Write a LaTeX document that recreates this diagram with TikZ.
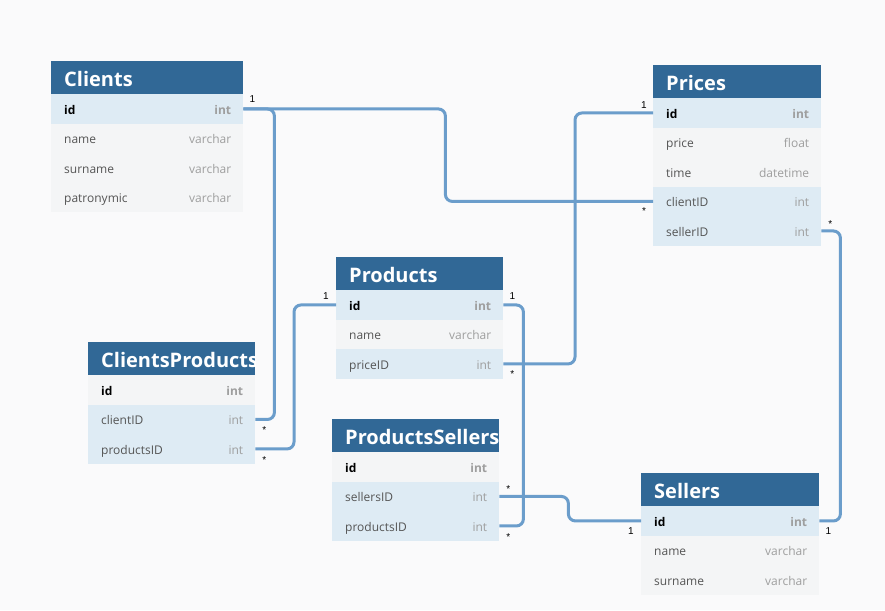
\documentclass[tikz,border=0pt]{standalone}
\usepackage{fontspec}
\setmainfont{Open Sans}
\newfontfamily\cardfont{Liberation Sans}
\usetikzlibrary{calc}
\definecolor{bgc}{RGB}{250,250,251}
\definecolor{hdrc}{RGB}{49,104,150}
\definecolor{keyc}{RGB}{222,235,244}
\definecolor{fldc}{RGB}{244,245,246}
\definecolor{linec}{RGB}{107,157,203}
\definecolor{ftext}{RGB}{85,85,85}
\definecolor{ttext}{RGB}{158,158,158}
\tikzset{
  hdr/.style={fill=hdrc, draw=none, minimum height=33pt, inner sep=0pt},
  hdrtext/.style={text=white, font=\fontsize{20}{24}\selectfont\bfseries, inner sep=0pt, text height=14.5pt, text depth=0pt},
  rowbox/.style={draw=none, minimum height=29.5pt, inner sep=0pt},
  kf/.style={font=\fontsize{12}{14}\selectfont\bfseries, text=black, inner sep=0pt, text height=9pt, text depth=0.5pt},
  kft/.style={font=\fontsize{12}{14}\selectfont\bfseries, text=ttext, inner sep=0pt, text height=9pt, text depth=0.5pt},
  nf/.style={font=\fontsize{12}{14}\selectfont, text=ftext, inner sep=0pt, text height=9pt, text depth=0.5pt},
  nft/.style={font=\fontsize{12}{14}\selectfont, text=ttext, inner sep=0pt, text height=9pt, text depth=0.5pt},
  conn/.style={draw=linec, line width=3pt, rounded corners=7pt},
  card/.style={font=\cardfont\fontsize{10}{12}\selectfont, inner sep=0pt, text=black}
}
% #1 name, #2 x, #3 y, #4 width, #5 title
\newcommand\erhead[5]{%
  \begin{scope}
    \clip (#2,#3) rectangle ++(#4,33);
    \node[hdr, minimum width=#4pt, anchor=north west] (#1) at (#2,#3) {};
    \node[hdrtext, anchor=west] (#1-title) at ($(#1.west)+(13,1.5)$) {#5};
  \end{scope}}
% #1 name, #2 x, #3 y, #4 width, #5 fill, #6 field, #7 type, #8 style
\newcommand\errow[8]{%
  \node[rowbox, fill=#5, minimum width=#4pt, anchor=north west] (#1) at (#2,#3) {};
  \node[#8, anchor=west] (#1-n) at ($(#1.west)+(13,1)$) {#6};
  \node[#8t, anchor=east] (#1-t) at ($(#1.east)+(-12,1)$) {#7};}
\begin{document}
\begin{tikzpicture}[x=1pt,y=-1pt]
\fill[bgc] (0,0) rectangle (885,610);
\useasboundingbox (0,0) rectangle (885,610);

% Clients
\erhead{cl}{51}{61}{192}{Clients}
\errow{cl-id}{51}{94}{192}{keyc}{id}{int}{kf}
\errow{cl-name}{51}{123.5}{192}{fldc}{name}{varchar}{nf}
\errow{cl-sur}{51}{153}{192}{fldc}{surname}{varchar}{nf}
\errow{cl-pat}{51}{182.5}{192}{fldc}{patronymic}{varchar}{nf}

% Prices
\erhead{pz}{653}{65}{168}{Prices}
\errow{pz-id}{653}{98}{168}{keyc}{id}{int}{kf}
\errow{pz-price}{653}{127.5}{168}{fldc}{price}{float}{nf}
\errow{pz-time}{653}{157}{168}{fldc}{time}{datetime}{nf}
\errow{pz-client}{653}{186.5}{168}{keyc}{clientID}{int}{nf}
\errow{pz-seller}{653}{216}{168}{keyc}{sellerID}{int}{nf}

% Products
\erhead{p}{336}{257}{167}{Products}
\errow{p-id}{336}{290}{167}{keyc}{id}{int}{kf}
\errow{p-name}{336}{319.5}{167}{fldc}{name}{varchar}{nf}
\errow{p-price}{336}{349}{167}{keyc}{priceID}{int}{nf}

% ClientsProducts
\erhead{cp}{88}{342}{167}{ClientsProducts}
\errow{cp-id}{88}{375}{167}{fldc}{id}{int}{kf}
\errow{cp-client}{88}{404.5}{167}{keyc}{clientID}{int}{nf}
\errow{cp-prod}{88}{434}{167}{keyc}{productsID}{int}{nf}

% ProductsSellers
\erhead{ps}{332}{419}{167}{ProductsSellers}
\errow{ps-id}{332}{452}{167}{fldc}{id}{int}{kf}
\errow{ps-sell}{332}{481.5}{167}{keyc}{sellersID}{int}{nf}
\errow{ps-prod}{332}{511}{167}{keyc}{productsID}{int}{nf}

% Sellers
\erhead{s}{641}{473}{178}{Sellers}
\errow{s-id}{641}{506}{178}{keyc}{id}{int}{kf}
\errow{s-name}{641}{535.5}{178}{fldc}{name}{varchar}{nf}
\errow{s-sur}{641}{565}{178}{fldc}{surname}{varchar}{nf}

% connectors
\draw[conn] (cl-id.east) -- ++(31,0) |- (cp-client.east);
\draw[conn] (cl-id.east) -- ++(202,0) |- (pz-client.west);
\draw[conn] (pz-id.west) -- ++(-78,0) |- (p-price.east);
\draw[conn] (p-id.west) -- ++(-42,0) |- (cp-prod.east);
\draw[conn] (p-id.east) -- ++(20,0) |- (ps-prod.east);
\draw[conn] (ps-sell.east) -- ++(69,0) |- (s-id.west);
\draw[conn] (pz-seller.east) -- ++(19,0) |- (s-id.east);

% cardinality labels
\node[card] (c1) at ($(cl-id.east)+(9,-10)$) {1};
\node[card] (c2) at ($(pz-client.west)+(-9,10)$) {*};
\node[card] (c3) at ($(pz-id.west)+(-9,-8)$) {1};
\node[card] (c4) at ($(p-price.east)+(9,10)$) {*};
\node[card] (c5) at ($(p-id.west)+(-10,-9)$) {1};
\node[card] (c6) at ($(p-id.east)+(9,-9)$) {1};
\node[card] (c7) at ($(cp-client.east)+(9,11)$) {*};
\node[card] (c8) at ($(cp-prod.east)+(9,11)$) {*};
\node[card] (c9) at ($(ps-sell.east)+(9,-7)$) {*};
\node[card] (c10) at ($(ps-prod.east)+(9,11)$) {*};
\node[card] (c11) at ($(s-id.west)+(-10,10)$) {1};
\node[card] (c12) at ($(s-id.east)+(9,10)$) {1};
\node[card] (c13) at ($(pz-seller.east)+(9,-7)$) {*};
\end{tikzpicture}
\end{document}
